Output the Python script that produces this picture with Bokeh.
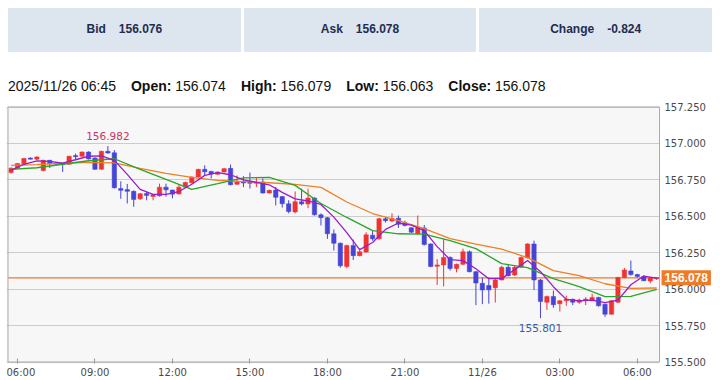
import pandas as pd
from bokeh.plotting import figure
from bokeh.models import Div, FixedTicker, Label, ColumnDataSource, PrintfTickFormatter
from bokeh.layouts import column
from bokeh.embed import file_html
from bokeh.resources import INLINE
from bokeh.core.properties import value

# ---------------- data ----------------
bid = 156.076
ask = 156.078
change = -0.824
stamp = "2025/11/26 06:45"

opens = [156.800, 156.830, 156.860, 156.898, 156.892, 156.815, 156.884, 156.864, 156.862, 156.857,
         156.915, 156.912, 156.941, 156.900, 156.823, 156.946, 156.936, 156.690, 156.683, 156.671,
         156.620, 156.657, 156.636, 156.640, 156.700, 156.680, 156.653, 156.700, 156.730, 156.770,
         156.822, 156.808, 156.788, 156.804, 156.829, 156.720, 156.738, 156.733, 156.728, 156.735,
         156.660, 156.680, 156.635, 156.586, 156.530, 156.600, 156.585, 156.625, 156.510, 156.490,
         156.380, 156.315, 156.155, 156.300, 156.230, 156.255, 156.370, 156.345, 156.483, 156.468,
         156.487, 156.455, 156.421, 156.380, 156.420, 156.310, 156.157, 156.166, 156.218, 156.142,
         156.170, 156.257, 156.120, 156.040, 156.025, 156.010, 156.063, 156.150, 156.097, 156.150,
         156.215, 156.310, 156.063, 155.910, 155.950, 155.900, 155.920, 155.930, 155.910, 155.925,
         155.920, 155.943, 155.897, 155.828, 155.910, 156.080, 156.125, 156.100, 156.087, 156.056,
         156.074]
highs = [156.836, 156.866, 156.902, 156.905, 156.912, 156.888, 156.887, 156.868, 156.866, 156.915,
         156.930, 156.945, 156.946, 156.905, 156.950, 156.982, 156.955, 156.740, 156.722, 156.678,
         156.660, 156.670, 156.651, 156.724, 156.724, 156.683, 156.720, 156.738, 156.774, 156.826,
         156.850, 156.812, 156.808, 156.832, 156.855, 156.780, 156.775, 156.800, 156.765, 156.760,
         156.683, 156.700, 156.640, 156.610, 156.670, 156.690, 156.690, 156.630, 156.520, 156.495,
         156.410, 156.320, 156.305, 156.340, 156.278, 156.390, 156.400, 156.490, 156.495, 156.520,
         156.505, 156.470, 156.425, 156.505, 156.440, 156.315, 156.207, 156.345, 156.225, 156.175,
         156.278, 156.265, 156.125, 156.080, 156.080, 156.070, 156.160, 156.170, 156.165, 156.225,
         156.315, 156.333, 156.070, 155.955, 155.990, 155.925, 155.955, 155.935, 155.935, 155.945,
         155.968, 155.948, 155.900, 155.925, 156.085, 156.145, 156.196, 156.105, 156.095, 156.080,
         156.079]
lows = [156.793, 156.826, 156.853, 156.890, 156.886, 156.808, 156.831, 156.845, 156.804, 156.855,
        156.890, 156.908, 156.890, 156.818, 156.820, 156.930, 156.690, 156.620, 156.588, 156.565,
        156.612, 156.610, 156.610, 156.635, 156.635, 156.623, 156.650, 156.696, 156.726, 156.766,
        156.780, 156.760, 156.785, 156.800, 156.712, 156.715, 156.700, 156.690, 156.700, 156.655,
        156.655, 156.575, 156.560, 156.520, 156.520, 156.575, 156.555, 156.505, 156.437, 156.345,
        156.265, 156.148, 156.143, 156.200, 156.225, 156.250, 156.333, 156.340, 156.457, 156.460,
        156.420, 156.430, 156.385, 156.378, 156.300, 156.150, 156.028, 156.019, 156.127, 156.115,
        156.165, 156.115, 155.890, 155.897, 155.900, 155.908, 156.060, 156.088, 156.090, 156.145,
        156.210, 155.994, 155.801, 155.858, 155.872, 155.846, 155.886, 155.890, 155.900, 155.890,
        155.918, 155.880, 155.810, 155.825, 155.905, 156.075, 156.092, 156.080, 156.055, 156.040,
        156.063]
closes = [156.830, 156.862, 156.896, 156.894, 156.907, 156.884, 156.862, 156.860, 156.857, 156.912,
          156.910, 156.941, 156.893, 156.822, 156.946, 156.934, 156.696, 156.678, 156.671, 156.616,
          156.655, 156.643, 156.648, 156.700, 156.682, 156.652, 156.700, 156.732, 156.770, 156.822,
          156.805, 156.790, 156.804, 156.827, 156.717, 156.735, 156.728, 156.728, 156.732, 156.660,
          156.678, 156.630, 156.586, 156.533, 156.600, 156.585, 156.625, 156.510, 156.490, 156.380,
          156.315, 156.160, 156.300, 156.230, 156.257, 156.373, 156.345, 156.483, 156.470, 156.485,
          156.445, 156.437, 156.391, 156.420, 156.306, 156.155, 156.166, 156.218, 156.142, 156.170,
          156.257, 156.120, 156.042, 155.994, 155.995, 156.063, 156.150, 156.092, 156.150, 156.218,
          156.310, 156.063, 155.915, 155.950, 155.893, 155.920, 155.932, 155.910, 155.925, 155.930,
          155.943, 155.886, 155.828, 155.920, 156.080, 156.132, 156.100, 156.087, 156.058, 156.076,
          156.078]

start_time = "2025-11-25 05:45"
times = pd.date_range(start_time, periods=len(opens), freq="15min")

tick_times = ["2025-11-25 06:00", "2025-11-25 09:00", "2025-11-25 12:00", "2025-11-25 15:00",
              "2025-11-25 18:00", "2025-11-25 21:00", "2025-11-26 00:00", "2025-11-26 03:00",
              "2025-11-26 06:00"]
tick_labels = ["06:00", "09:00", "12:00", "15:00", "18:00", "21:00", "11/26", "03:00", "06:00"]
y_ticks = [155.5, 155.75, 156.0, 156.25, 156.5, 156.75, 157.0, 157.25]

# moving averages (fast: every 2 bars, mid/slow: every 4 bars)
ma_fast = [156.815, 156.857, 156.880, 156.877, 156.864, 156.888, 156.912, 156.914, 156.884, 156.788,
           156.685, 156.650, 156.650, 156.670, 156.720, 156.781, 156.800, 156.785, 156.750, 156.733,
           156.716, 156.664, 156.619, 156.605, 156.581, 156.494, 156.388, 156.271, 156.320, 156.410,
           156.454, 156.440, 156.402, 156.292, 156.202, 156.196, 156.140, 156.072, 156.072, 156.134,
           156.196, 156.120, 156.017, 155.930, 155.920, 155.924, 155.908, 155.925, 156.030, 156.090,
           156.075]
ma_mid = [156.822, 156.833, 156.857, 156.881, 156.895, 156.822, 156.753, 156.685, 156.724, 156.764,
          156.767, 156.712, 156.588, 156.492, 156.402, 156.380, 156.378, 156.333, 156.278, 156.175,
          156.147, 156.072, 156.017, 155.948, 155.951, 155.999]
ma_slow = [156.850, 156.854, 156.864, 156.870, 156.867, 156.829, 156.795, 156.767, 156.747, 156.738,
           156.730, 156.719, 156.698, 156.598, 156.519, 156.471, 156.416, 156.347, 156.309, 156.275,
           156.216, 156.127, 156.092, 156.037, 156.005, 156.008]

# ---------------- styling / layout constants ----------------
UP = "#f03232"
DOWN = "#4545d6"
C_FAST = "#9a1ccc"
C_MID = "#2aa52a"
C_SLOW = "#ef7f22"
C_PRICE = "#f07a26"
BORDER = "#aaaaaa"
AXIS_FONT = "DejaVu Sans"

PLOT_W, PLOT_H = 652, 255        # plot box in pixels
STRIP_W = 52                     # right-hand price-label strip
PAD = 1.5                        # px of frame outside the plot box
X0, X1 = -0.47, 100.44           # plot box in bar units
Y0, Y1 = y_ticks[0], y_ticks[-1]
ppx = PLOT_W / (X1 - X0)
ppy = PLOT_H / (Y1 - Y0)

n = len(opens)
xs = list(range(n))
pos_of = {t: i for i, t in enumerate(times)}
tick_pos = [pos_of[pd.Timestamp(t)] for t in tick_times]

min_h = 0.008
tops, bots, cols = [], [], []
for o, c in zip(opens, closes):
    t, b = max(o, c), min(o, c)
    if t - b < min_h:
        m = (t + b) / 2
        t, b = m + min_h / 2, m - min_h / 2
    tops.append(t)
    bots.append(b)
    cols.append(UP if c >= o else DOWN)

src = ColumnDataSource(dict(x=xs, top=tops, bottom=bots, high=highs, low=lows, color=cols))

p = figure(frame_width=int(PAD + PLOT_W + STRIP_W), frame_height=int(PLOT_H + 2 * PAD),
           x_range=(X0 - PAD / ppx, X1 + STRIP_W / ppx),
           y_range=(Y0 - PAD / ppy, Y1 + PAD / ppy),
           output_backend="svg", toolbar_location=None, y_axis_location="right",
           min_border_left=0, min_border_top=7, min_border_right=0, min_border_bottom=0,
           background_fill_color="#f7f7f7", border_fill_color="white",
           outline_line_color=None)

p.xgrid.visible = False
p.ygrid.grid_line_color = "#cccccc"
p.ygrid.grid_line_width = 1

yax = p.yaxis[0]
yax.ticker = FixedTicker(ticks=y_ticks)
yax.formatter = PrintfTickFormatter(format="%.3f")
yax.major_tick_out = 0
yax.major_tick_in = 0
yax.minor_tick_out = 0
yax.minor_tick_in = 0
yax.major_label_standoff = -(STRIP_W - 5)
yax.axis_line_color = None
yax.major_label_text_font = AXIS_FONT
yax.major_label_text_font_size = "10px"
yax.major_label_text_color = "#4a4a4a"

xax = p.xaxis[0]
xax.ticker = FixedTicker(ticks=tick_pos)
xax.major_label_overrides = {tp: lab for tp, lab in zip(tick_pos, tick_labels)}
xax.major_tick_in = 5
xax.major_tick_out = 0
xax.minor_tick_in = 0
xax.minor_tick_out = 0
xax.major_tick_line_color = "#999999"
xax.axis_line_color = None
xax.major_label_standoff = 3
xax.major_label_text_font = AXIS_FONT
xax.major_label_text_font_size = "10px"
xax.major_label_text_color = "#4a4a4a"

# white strip for the price scale
p.quad(left=[X1], right=[X1 + 2 * STRIP_W / ppx], bottom=[Y0 - 1], top=[Y1 + 1],
       fill_color="white", line_color=None)

# current price line
p.segment(x0=[X0], x1=[X1], y0=[closes[-1]], y1=[closes[-1]], line_color=C_PRICE, line_width=1.3)

# candles
p.segment(x0="x", y0="low", x1="x", y1="high", line_color="color", line_width=1, source=src)
p.vbar(x="x", width=0.68, top="top", bottom="bottom", fill_color="color",
       line_color="color", line_width=0.5, source=src)

# moving averages
p.line(xs[::4], ma_slow, line_color=C_SLOW, line_width=1.3)
p.line(xs[::4], ma_mid, line_color=C_MID, line_width=1.3)
p.line(xs[::2], ma_fast, line_color=C_FAST, line_width=1.3)

# plot box border
p.quad(left=[X0], right=[X1], bottom=[Y0], top=[Y1], fill_color=None,
       line_color=BORDER, line_width=1)

# high / low annotations
imax = max(range(n), key=lambda i: highs[i])
imin = min(range(n), key=lambda i: lows[i])
p.text(x=[imax], y=[highs[imax]], text=[f"{highs[imax]:.3f}"], text_align="center",
       text_baseline="bottom", y_offset=-6, text_font=value(AXIS_FONT),
       text_font_size="10.5px", text_color="#cc3366")
p.text(x=[imin], y=[lows[imin]], text=[f"{lows[imin]:.3f}"], text_align="center",
       text_baseline="top", y_offset=6, text_font=value(AXIS_FONT),
       text_font_size="10.5px", text_color="#3a5aa8")

# price tag on the right scale
p.add_layout(Label(x=X1, y=closes[-1], x_offset=2, text=f"{closes[-1]:.3f}",
                   text_color="white", text_font="Liberation Sans",
                   text_font_style="bold", text_font_size="12px",
                   text_baseline="middle", text_align="left",
                   background_fill_color=C_PRICE, padding=3))

# ---------------- header ----------------
box = "flex:1;background:#dde5ee;display:flex;align-items:center;justify-content:center;"
items = [("Bid", f"{bid:.3f}"), ("Ask", f"{ask:.3f}"), ("Change", f"{change:.3f}")]
header_html = ('<div style="display:flex;gap:3px;width:704px;height:44px;'
               "font-family:'Liberation Sans',Arial,sans-serif;font-size:12px;"
               'font-weight:bold;color:#1f2d50;">' +
               "".join(f'<div style="{box}">{k}<span style="margin-left:13px">{v}</span></div>'
                       for k, v in items) + "</div>")
header = Div(text=header_html, width=704, height=44, margin=(8, 0, 0, 8))

info_html = ('<div style="padding-top:24px;font-family:\'Liberation Sans\',Arial,sans-serif;'
             'font-size:14px;color:#111;white-space:nowrap;">' + stamp +
             f'<b style="margin-left:15px">Open:</b> {opens[-1]:.3f}'
             f'<b style="margin-left:15px">High:</b> {highs[-1]:.3f}'
             f'<b style="margin-left:15px">Low:</b> {lows[-1]:.3f}'
             f'<b style="margin-left:15px">Close:</b> {closes[-1]:.3f}</div>')
info = Div(text=info_html, width=704, height=46, margin=(0, 0, 0, 8))

p.margin = (0, 0, 0, 6)
layout = column(header, info, p, spacing=0)

open("out.html", "w").write(file_html(layout, INLINE))
